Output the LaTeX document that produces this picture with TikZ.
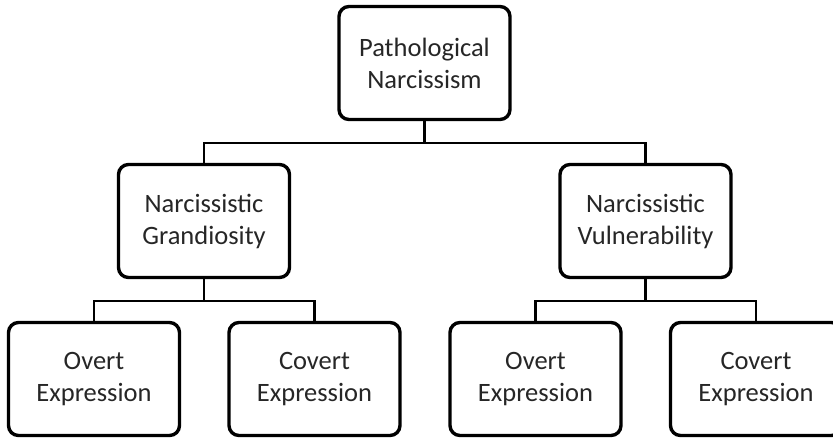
\documentclass[tikz,border=0pt]{standalone}
\usepackage{fontspec}
\setmainfont{Carlito}
\begin{document}
\begin{tikzpicture}[x=1pt,y=1pt,
  box/.style={draw, line width=3.4pt, rounded corners=10pt, align=center,
    minimum width=171pt, minimum height=113pt, inner sep=0pt, text=black!85,
    font=\fontsize{26.5}{32}\selectfont},
  link/.style={draw, line width=2.2pt}]
\useasboundingbox (0,0) rectangle (833,-437);
\node[box] (1) at (424.5,-63) {Pathological\\Narcissism};
\node[box] (2) at (204,-221) {Narcissistic\\Grandiosity};
\node[box] (3) at (645.5,-221) {Narcissistic\\Vulnerability};
\node[box] (4) at (94,-379) {Overt\\Expression};
\node[box] (5) at (314.5,-379) {Covert\\Expression};
\node[box] (6) at (535.5,-379) {Overt\\Expression};
\node[box] (7) at (756,-379) {Covert\\Expression};
\coordinate (a) at (424.5,-143);
\coordinate (b) at (204,-301);
\coordinate (c) at (645.5,-301);
\path[link] (1) -- (a);
\path[link] (a) -| (2);
\path[link] (a) -| (3);
\path[link] (2) -- (b);
\path[link] (b) -| (4);
\path[link] (b) -| (5);
\path[link] (3) -- (c);
\path[link] (c) -| (6);
\path[link] (c) -| (7);
\end{tikzpicture}
\end{document}
